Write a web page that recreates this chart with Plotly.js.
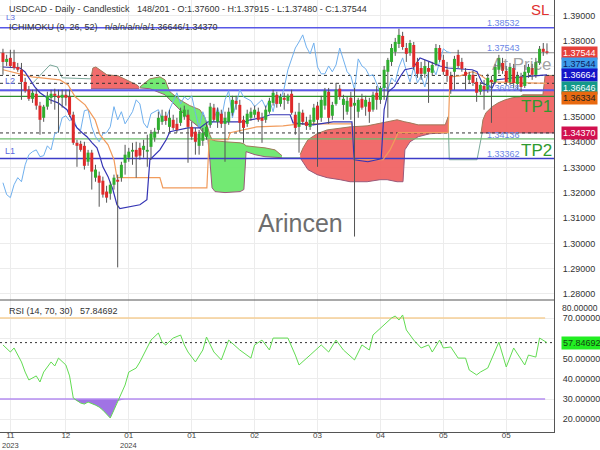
<!DOCTYPE html>
<html><head><meta charset="utf-8">
<script src="https://cdn.plot.ly/plotly-3.0.1.min.js"></script>
<style>html,body{margin:0;padding:0;background:#fff}#chart{width:600px;height:450px}</style>
</head><body><div id="chart"></div>
<script>
// ---------- DATA ----------
const openP = [
1.3754,1.3718,1.3734,1.3718,1.3698,1.3687,1.3639,1.3608,1.3572,1.3592,
1.3545,1.3497,1.3541,1.3576,1.3592,1.3584,1.3576,1.3588,1.3580,1.3509,
1.3398,1.3394,1.3386,1.3323,1.3359,1.3260,1.3268,1.3248,1.3205,1.3197,
1.3232,1.3252,1.3260,1.3319,1.3339,1.3363,1.3370,1.3378,1.3370,1.3363,
1.3382,1.3418,1.3449,1.3481,1.3505,1.3461,1.3489,1.3473,1.3477,1.3501,
1.3509,1.3461,1.3442,1.3386,1.3406,1.3422,1.3469,1.3537,1.3481,1.3513,
1.3473,1.3481,1.3517,1.3564,1.3548,1.3489,1.3473,1.3497,1.3509,1.3521,
1.3497,1.3489,1.3521,1.3556,1.3588,1.3552,1.3576,1.3564,1.3592,1.3509,
1.3461,1.3517,1.3481,1.3461,1.3481,1.3545,1.3497,1.3545,1.3600,1.3505,
1.3552,1.3612,1.3548,1.3521,1.3576,1.3545,1.3521,1.3572,1.3541,1.3560,
1.3529,1.3596,1.3568,1.3615,1.3679,1.3718,1.3758,1.3789,1.3821,1.3773,
1.3754,1.3785,1.3718,1.3694,1.3671,1.3694,1.3675,1.3710,1.3773,1.3726,
1.3687,1.3663,1.3679,1.3746,1.3718,1.3679,1.3647,1.3667,1.3639,1.3600,
1.3623,1.3608,1.3647,1.3639,1.3687,1.3714,1.3683,1.3639,1.3694,1.3631,
1.3659,1.3623,1.3675,1.3694,1.3667,1.3714,1.3770,1.37600];
const highP = [
1.3770,1.3746,1.3766,1.3766,1.3714,1.3714,1.3655,1.3623,1.3608,1.3612,
1.3560,1.3548,1.3600,1.3608,1.3612,1.3608,1.3608,1.3608,1.3608,1.3521,
1.3410,1.3406,1.3402,1.3370,1.3370,1.3311,1.3284,1.3264,1.3228,1.3244,
1.3272,1.3272,1.3323,1.3390,1.3378,1.3398,1.3402,1.3398,1.3410,1.3430,
1.3449,1.3457,1.3521,1.3529,1.3521,1.3529,1.3509,1.3497,1.3537,1.3545,
1.3529,1.3481,1.3457,1.3449,1.3457,1.3481,1.3556,1.3552,1.3537,1.3529,
1.3521,1.3537,1.3584,1.3584,1.3568,1.3505,1.3529,1.3537,1.3545,1.3537,
1.3517,1.3545,1.3576,1.3608,1.3600,1.3592,1.3596,1.3592,1.3608,1.3521,
1.3556,1.3529,1.3501,1.3509,1.3552,1.3560,1.3584,1.3615,1.3615,1.3560,
1.3635,1.3627,1.3588,1.3580,1.3600,1.3615,1.3576,1.3592,1.3584,1.3576,
1.3600,1.3623,1.3623,1.3702,1.3734,1.3789,1.3813,1.3849,1.3837,1.3793,
1.3805,1.3797,1.3734,1.3718,1.3726,1.3718,1.3718,1.3789,1.3785,1.3746,
1.3718,1.3679,1.3742,1.3766,1.3734,1.3694,1.3679,1.3683,1.3655,1.3639,
1.3647,1.3671,1.3663,1.3710,1.3746,1.3734,1.3702,1.3714,1.3710,1.3679,
1.3675,1.3706,1.3710,1.3710,1.3734,1.3781,1.3793,1.37915];
const lowP = [
1.3667,1.3702,1.3694,1.3687,1.3679,1.3568,1.3596,1.3564,1.3556,1.3529,
1.3430,1.3481,1.3529,1.3552,1.3529,1.3438,1.3537,1.3545,1.3501,1.3390,
1.3303,1.3363,1.3292,1.3307,1.3213,1.3244,1.3145,1.3181,1.3161,1.3173,
1.3213,1.2905,1.3244,1.3272,1.3323,1.3311,1.3260,1.3331,1.3339,1.3303,
1.3331,1.3402,1.3438,1.3469,1.3469,1.3438,1.3449,1.3438,1.3465,1.3489,
1.3319,1.3410,1.3351,1.3351,1.3386,1.3410,1.3457,1.3481,1.3457,1.3457,
1.3323,1.3469,1.3505,1.3529,1.3438,1.3398,1.3461,1.3485,1.3497,1.3481,
1.3398,1.3477,1.3513,1.3545,1.3537,1.3541,1.3529,1.3552,1.3509,1.3430,
1.3359,1.3469,1.3449,1.3449,1.3469,1.3303,1.3481,1.3529,1.3473,1.3489,
1.3545,1.3568,1.3489,1.3509,1.3489,1.3027,1.3497,1.3529,1.3505,1.3477,
1.3521,1.3529,1.3552,1.3568,1.3497,1.3702,1.3742,1.3773,1.3766,1.3718,
1.3742,1.3687,1.3655,1.3647,1.3655,1.3556,1.3663,1.3702,1.3718,1.3667,
1.3639,1.3592,1.3608,1.3694,1.3679,1.3608,1.3631,1.3623,1.3560,1.3588,
1.3529,1.3596,1.3477,1.3631,1.3671,1.3671,1.3627,1.3627,1.3615,1.3608,
1.3600,1.3615,1.3655,1.3647,1.3655,1.3706,1.3742,1.37480];
const closeP = [
1.3718,1.3730,1.3702,1.3694,1.3687,1.3639,1.3604,1.3572,1.3596,1.3545,
1.3489,1.3541,1.3584,1.3592,1.3584,1.3576,1.3588,1.3576,1.3509,1.3398,
1.3386,1.3370,1.3307,1.3359,1.3284,1.3292,1.3240,1.3193,1.3181,1.3232,
1.3260,1.3244,1.3311,1.3351,1.3363,1.3370,1.3343,1.3347,1.3386,1.3370,
1.3434,1.3442,1.3497,1.3505,1.3485,1.3497,1.3457,1.3449,1.3525,1.3529,
1.3461,1.3422,1.3402,1.3434,1.3438,1.3461,1.3541,1.3489,1.3521,1.3473,
1.3497,1.3521,1.3568,1.3552,1.3477,1.3457,1.3513,1.3521,1.3529,1.3489,
1.3485,1.3529,1.3564,1.3596,1.3552,1.3580,1.3568,1.3584,1.3517,1.3457,
1.3521,1.3481,1.3465,1.3489,1.3537,1.3489,1.3568,1.3604,1.3497,1.3548,
1.3608,1.3580,1.3572,1.3564,1.3541,1.3556,1.3568,1.3537,1.3568,1.3521,
1.3588,1.3568,1.3615,1.3687,1.3726,1.3773,1.3797,1.3825,1.3777,1.3750,
1.3793,1.3698,1.3671,1.3671,1.3702,1.3679,1.3706,1.3773,1.3726,1.3679,
1.3663,1.3608,1.3730,1.3702,1.3691,1.3663,1.3667,1.3635,1.3596,1.3627,
1.3608,1.3655,1.3639,1.3698,1.3734,1.3683,1.3639,1.3698,1.3635,1.3663,
1.3619,1.3679,1.3698,1.3667,1.3718,1.3770,1.3758,1.37544];

const tickBars = [2, 17, 34, 51, 68, 85, 102, 119, 136];
const tickLabels = ['11','12','01','01','02','03','04','05','05'];
const yearBars = [2, 34];
const yearLabels = ['2023', '2024'];
const priceTicks = [1.28,1.29,1.30,1.31,1.32,1.33,1.34,1.35,1.36,1.37,1.38,1.39];
const priceTickText = ['1.28000','1.29000','1.30000','1.31000','1.32000','1.33000','1.34000','1.35000','','','1.38000','1.39000'];
const rsiTicks = [20,30,40,50,60,70];
const rsiTickText = ['20.00000','30.00000','40.00000','50.00000','','70.00000'];

// Ichimoku lines (bar index, price)
const tenkanX = [0,4.6,5.9,7.3,8.6,10,11.4,12.7,14.9,17.3,18.6,20,21.4,22.7,24.1,25.4,26.2,27,28.4,29.7,30.8,31.6,37,38.9,39.7,42.4,44.1,45.1,50,53.2,55.4,65.4,66.8,70,72.2,77.6,78.4,83.8,89.2,94.3,94.9,98.6,102.2,103,104.1,105.7,107.3,108.6,110.8,112.7,115.4,118.1,120.3,126.8,128.1,129.5,132.2,133.2,140.3,147];
const tenkanY = [1.3698,1.3694,1.3679,1.3647,1.3619,1.3596,1.3580,1.3568,1.3556,1.3529,1.3489,1.3457,1.3438,1.3422,1.3398,1.3378,1.3343,1.3303,1.3264,1.3213,1.3153,1.3138,1.3153,1.3173,1.3331,1.3370,1.3410,1.3442,1.3457,1.3457,1.3481,1.3481,1.3489,1.3497,1.3509,1.3509,1.3477,1.3469,1.3481,1.3481,1.3331,1.3323,1.3335,1.3529,1.3600,1.3619,1.3659,1.3687,1.3694,1.3734,1.3718,1.3702,1.3694,1.3687,1.3679,1.3635,1.3615,1.3647,1.3659,1.36664];
const kijunX = [0,7.8,15.4,17.6,19.5,22.2,24.9,26.2,28.4,30,30.8,42.4,43.2,55.1,55.7,60.8,61.4,68.6,75.7,80.3,94.3,94.9,102.7,104.6,106.8,120.3,120.8,123.5,126.8,128.9,131.6,147];
const kijunY = [1.3687,1.3659,1.3647,1.3627,1.3580,1.3548,1.3489,1.3430,1.3390,1.3331,1.3260,1.3260,1.3220,1.3220,1.3410,1.3410,1.3438,1.3461,1.3465,1.3473,1.3473,1.3331,1.3331,1.3370,1.3438,1.3438,1.3659,1.3663,1.3679,1.3667,1.3639,1.36334];
const chikouShift = 26;

// Cloud segments (bar index, span A / span B)
const red1X = [23.8,24.3,25.1,26.2,28.1,31.1,33.5,36.2,36.8];
const red1A = [1.3655,1.3694,1.3698,1.3687,1.3667,1.3663,1.3647,1.3627,1.3619];
const red1B = [1.3612,1.3612,1.3612,1.3612,1.3612,1.3612,1.3612,1.3612,1.3612];
const greenX = [37.0,39.7,42.4,43.8,45.1,47.8,50.5,53.2,54.6,55.4,55.9,56.5,57.3,60.0,64.1,65.1,65.7,68.1,70.8,73.5,75.4];
const greenA = [1.3619,1.3651,1.3659,1.3647,1.3600,1.3568,1.3545,1.3529,1.3497,1.3449,1.3430,1.3410,1.3406,1.3402,1.3398,1.3394,1.3386,1.3382,1.3378,1.3370,1.3347];
const greenB = [1.3615,1.3612,1.3596,1.3588,1.3568,1.3529,1.3489,1.3457,1.3430,1.3410,1.3331,1.3220,1.3205,1.3201,1.3205,1.3213,1.3363,1.3351,1.3343,1.3339,1.3339];
const red2X = [80.3,81.1,82.4,84.9,87.6,91.1,93.8,98.4,101.9,103.8,106.5,108.1,108.6,110.0,112.2,115.4,119.5,120.3];
const red2A = [1.3351,1.3378,1.3410,1.3434,1.3449,1.3457,1.3461,1.3465,1.3477,1.3481,1.3489,1.3485,1.3481,1.3477,1.3469,1.3469,1.3469,1.3501];
const red2B = [1.3339,1.3319,1.3292,1.3272,1.3260,1.3252,1.3244,1.3244,1.3252,1.3252,1.3244,1.3244,1.3370,1.3402,1.3422,1.3434,1.3438,1.3438];
const red3X = [129.2,129.7,130.5,132.2,133.8,135.7,137.6,139.7,140.5,145.9,146.5,148.9];
const red3A = [1.3438,1.3489,1.3517,1.3541,1.3556,1.3568,1.3576,1.3580,1.3588,1.3588,1.36646,1.36646];
const red3B = [1.3437,1.3437,1.3437,1.3437,1.3437,1.3437,1.3437,1.3437,1.3437,1.3437,1.3437,1.3437];
const edgeX = [8.1,12.7,14.7,16,23.8,null,75.4,80.3,null,120.3,120.6,128.1,129.5];
const edgeY = [1.3635,1.3706,1.3698,1.3655,1.3651,null,1.3339,1.3339,null,1.3501,1.3331,1.3331,1.3438];

// Horizontal levels
const levelValues = [1.38532, 1.37543, 1.36646, 1.36334, 1.36058, 1.35820, 1.34370, 1.34136, 1.33362];
const levelLabels = ['1.38532','1.37543','','','1.36058','','','1.34136','1.33362'];

// RSI
const rsiBar = [0,2,3,5,6,7,9,10,11,13,14,15,17,18,19,21,22,23,25,26,27,28,29,30,31,33,34,36,37,38,40,42,43,44,46,48,49,50,52,54,55,57,59,61,64,67,68,70,72,73,75,77,79,80,83,86,88,90,92,95,97,99,100,103,105,106,107,108,109,111,113,115,116,118,119,121,123,125,126,128,129,131,134,136,138,141,142,144,145,147];
const rsiVal = [56.7,53.2,55.2,48.3,43.3,39.4,41.4,38.4,43.3,48.3,46.3,50.2,46.8,41.4,30.5,28.0,27.5,28.5,27.0,26.0,24.5,22.5,20.6,24.6,29.0,36.9,43.3,45.3,48.3,51.7,59.1,62.6,58.1,56.7,60.1,61.6,56.7,53.2,48.3,54.2,60.6,53.2,49.3,59.1,54.2,50.2,56.7,59.1,54.2,60.1,60.1,60.1,51.7,46.8,51.7,56.7,53.2,59.1,54.2,49.3,56.7,54.2,61.6,66.5,70.0,71.0,69.0,71.5,64.1,59.1,55.2,56.7,53.2,59.1,55.2,55.7,50.2,50.2,44.3,41.9,43.3,45.3,58.1,45.8,55.2,46.8,51.7,50.7,60.1,57.84692];
const rsiUpper = 70, rsiLower = 30, rsiLast = 57.84692;

// ---------- BUILD ----------
const X0 = -0.8, X1 = 148.9;
const FONT = 'Liberation Sans, Arial, sans-serif';
const barIdx = closeP.map((_, i) => i);
const traces = [];

function cloud(xs, a, b, fill) {
  traces.push({x: xs, y: b, mode: 'lines', line: {color: '#9a5a7a', width: 1}, hoverinfo: 'skip'});
  traces.push({x: xs, y: a, mode: 'lines', fill: 'tonexty', fillcolor: fill, line: {color: '#a07a5a', width: 1}, hoverinfo: 'skip'});
}
const RED = 'rgba(240,96,96,0.92)', GREEN = 'rgba(108,232,108,0.95)';
cloud(red1X, red1A, red1B, RED);
cloud(greenX, greenA, greenB, GREEN);
cloud(red2X, red2A, red2B, RED);
cloud(red3X, red3A, red3B, RED);
traces.push({x: edgeX, y: edgeY, mode: 'lines', line: {color: '#7aa89a', width: 1}, hoverinfo: 'skip'});

// level lines
const levelStyle = [
  {color: '#5757e6', width: 1.6},
  {color: '#8a8a8a', width: 1},
  {color: '#333333', width: 1, dash: '3px,3px'},
  {color: '#333333', width: 1, dash: '3px,3px'},
  {color: '#5a5ae8', width: 2},
  {color: '#2f8f2f', width: 1.3},
  {color: '#333333', width: 1, dash: '3px,3px'},
  {color: '#6dbb6d', width: 1.3},
  {color: '#3c3cc8', width: 1.5}
];
levelValues.forEach((v, k) => {
  traces.push({x: [X0, X1], y: [v, v], mode: 'lines', line: levelStyle[k], hoverinfo: 'skip'});
});

// ichimoku lines
const chX = [], chY = [];
barIdx.forEach(i => { if (i >= chikouShift) { chX.push(i - chikouShift); chY.push(closeP[i]); } });
traces.push({x: chX, y: chY, mode: 'lines', line: {color: '#70b0ee', width: 1}, hoverinfo: 'skip'});
traces.push({x: kijunX, y: kijunY, mode: 'lines', line: {color: '#f19b5c', width: 1.2}, hoverinfo: 'skip'});
traces.push({x: tenkanX, y: tenkanY, mode: 'lines', line: {color: '#3434b4', width: 1.2}, hoverinfo: 'skip'});

// candles: wicks + bodies
const wX = [], wY = [], upX = [], upY = [], dnX = [], dnY = [];
barIdx.forEach(i => {
  wX.push(i, i, null); wY.push(lowP[i], highP[i], null);
  if (closeP[i] >= openP[i]) { upX.push(i, i, null); upY.push(openP[i], closeP[i], null); }
  else { dnX.push(i, i, null); dnY.push(openP[i], closeP[i], null); }
});
traces.push({x: wX, y: wY, mode: 'lines', line: {color: '#555555', width: 1}, hoverinfo: 'skip'});
traces.push({x: upX, y: upY, mode: 'lines', line: {color: '#2fae2f', width: 3}, hoverinfo: 'skip'});
traces.push({x: dnX, y: dnY, mode: 'lines', line: {color: '#df2a2a', width: 3}, hoverinfo: 'skip'});

// RSI panel
const rsiClip = rsiVal.map(v => Math.min(v, rsiLower));
const rsiBase = rsiVal.map(() => rsiLower);
traces.push({x: rsiBar, y: rsiBase, xaxis: 'x', yaxis: 'y2', mode: 'lines', line: {width: 0, color: 'rgba(0,0,0,0)'}, hoverinfo: 'skip'});
traces.push({x: rsiBar, y: rsiClip, xaxis: 'x', yaxis: 'y2', mode: 'lines', fill: 'tonexty', fillcolor: 'rgba(150,100,225,0.9)', line: {width: 0, color: 'rgba(0,0,0,0)'}, hoverinfo: 'skip'});
traces.push({x: [X0, 146.5], y: [rsiUpper, rsiUpper], xaxis: 'x', yaxis: 'y2', mode: 'lines', line: {color: '#f6cf96', width: 1.5}, hoverinfo: 'skip'});
traces.push({x: [X0, 146.5], y: [rsiLower, rsiLower], xaxis: 'x', yaxis: 'y2', mode: 'lines', line: {color: '#b48cf0', width: 1.5}, hoverinfo: 'skip'});
traces.push({x: [X0, X1], y: [rsiLast, rsiLast], xaxis: 'x', yaxis: 'y2', mode: 'lines', line: {color: '#333', width: 1, dash: '2px,3px'}, hoverinfo: 'skip'});
traces.push({x: rsiBar, y: rsiVal, xaxis: 'x', yaxis: 'y2', mode: 'lines', line: {color: '#62dc52', width: 1}, hoverinfo: 'skip'});

// ---------- LAYOUT ----------
const PW = 554, PH = 432;
const px = v => v / PW, py = v => 1 - v / PH;
const ann = [];
function txt(t, x, y, size, color, xanchor, extra) {
  ann.push(Object.assign({text: t, xref: 'paper', yref: 'paper', x: px(x), y: py(y), xanchor: xanchor || 'left', yanchor: 'middle', showarrow: false, font: {family: FONT, size: size, color: color}}, extra || {}));
}
const sp = '\u00a0\u00a0\u00a0';
txt('USDCAD - Daily - Candlestick' + sp + '148/201 - O:1.37600 - H:1.37915 - L:1.37480 - C:1.37544', 7, 9, 9, '#333');
txt('ICHIMOKU (9, 26, 52)' + sp + 'n/a/n/a/n/a/1.36646/1.34370', 7, 27, 9, '#333');
txt('L3', 10, 17, 8, '#5a6ae0', 'center');
txt('L2', 10, 81, 9, '#5a6ae0', 'center');
txt('L1', 10, 151, 9, '#5a6ae0', 'center');
const labelY = {0: 23, 1: 48, 4: 88, 7: 135, 8: 154};
levelLabels.forEach((t, k) => { if (t) txt(t, 503, labelY[k], 9, '#6a86e6', 'center'); });
txt('At Price', 522, 64, 17, 'rgba(110,110,110,0.65)', 'center');
txt('SL', 540, 9, 15, '#e03030', 'center');
txt('TP1', 536, 107, 17, '#2f9a2f', 'center');
txt('TP2', 536, 150, 17, '#2f9a2f', 'center');
txt('Arincen', 300, 223, 25, '#6e6e6e', 'center');
txt('RSI (14, 70, 30)' + sp + '57.84692', 7, 311, 9, '#333');
txt('80.00000', 560, 308, 8.5, '#333');
yearBars.forEach((b, k) => {
  ann.push({text: yearLabels[k], xref: 'x', yref: 'paper', x: b, y: py(445.5), xanchor: 'center', yanchor: 'middle', showarrow: false, font: {family: FONT, size: 7.5, color: '#444'}});
});
function box(t, y, bg, fg) {
  txt(t, 561, y, 9, fg, 'left', {bgcolor: bg, borderpad: 1});
}
box('1.37544', 52.5, '#e5413b', '#ffffff');
box('1.37544', 64, '#3d9be9', '#0b1a5e');
box('1.36664', 75.5, '#1414c8', '#ffffff');
box('1.36646', 87.5, '#13998a', '#ffffff');
box('1.36334', 98, '#e8690f', '#222222');
box('1.34370', 133, '#d1104f', '#ffffff');
box('57.84692', 343, '#22ee22', '#114411');

const split = 1 - 300 / PH;
const layout = {
  width: 600, height: 450,
  margin: {l: 0, r: 46, t: 0, b: 18},
  paper_bgcolor: '#ffffff', plot_bgcolor: '#ffffff',
  showlegend: false,
  font: {family: FONT, size: 9, color: '#333'},
  xaxis: {range: [X0, X1], tickvals: tickBars, ticktext: tickLabels, showgrid: true, gridcolor: '#ececec',
          zeroline: false, showline: true, linecolor: '#555', linewidth: 1, ticks: '', anchor: 'y2',
          ticklabelstandoff: -5, tickfont: {family: FONT, size: 8, color: '#444'}},
  yaxis: {domain: [split, 1], range: [1.2776, 1.3963], side: 'right', tickvals: priceTicks, ticktext: priceTickText,
          showgrid: true, gridcolor: '#ececec', zeroline: false, showline: true, linecolor: '#555', linewidth: 1,
          ticks: '', ticklabelstandoff: 6, tickfont: {family: FONT, size: 9, color: '#333'}},
  yaxis2: {domain: [0, split], range: [13.7, 78.9], side: 'right', tickvals: rsiTicks, ticktext: rsiTickText,
           showgrid: true, gridcolor: '#ececec', zeroline: false, showline: true, linecolor: '#555', linewidth: 1,
           ticks: '', ticklabelstandoff: 6, tickfont: {family: FONT, size: 9, color: '#333'}},
  shapes: [{type: 'line', xref: 'paper', yref: 'paper', x0: 0, x1: 1, y0: split, y1: split, line: {color: '#555', width: 1}}],
  annotations: ann
};
Plotly.newPlot('chart', traces, layout, {staticPlot: true, displayModeBar: false});
</script>
</body></html>
